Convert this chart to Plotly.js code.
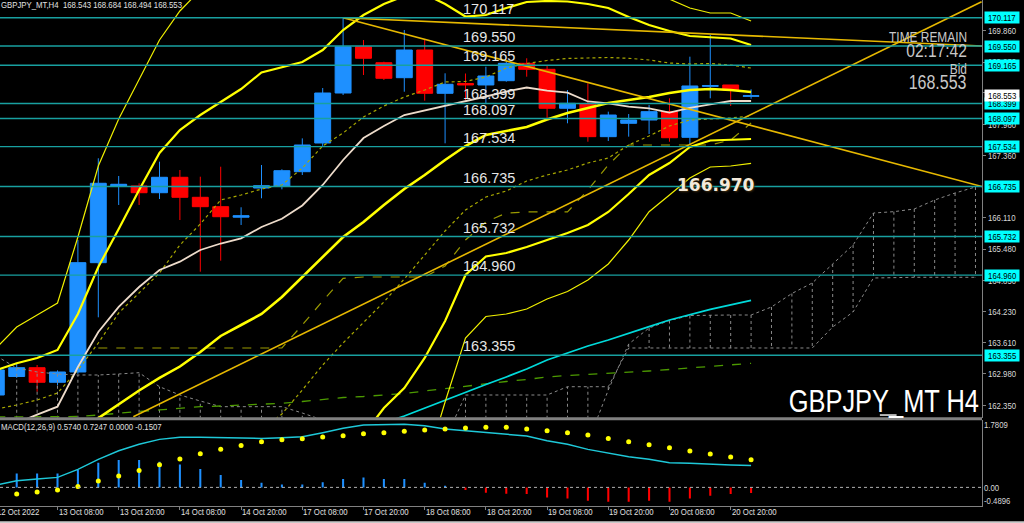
<!DOCTYPE html>
<html><head><meta charset="utf-8">
<script src="https://cdn.plot.ly/plotly-3.0.1.min.js"></script>
<style>html,body{margin:0;padding:0;background:#000;overflow:hidden}#chart{width:1024px;height:523px}</style>
</head><body><div id="chart"></div>
<script>
// ---------- DATA ----------
// bar index -1 .. 36  (12 Oct 20:00 .. 21 Oct 00:00, H4)
const barIdx = []; for (let k = -1; k <= 36; k++) barIdx.push(k);
const cloudIdx = []; for (let k = -1; k <= 47; k++) cloudIdx.push(k);

const tickIdx = [-1, 2, 5, 8, 11, 14, 17, 20, 23, 26, 29, 32, 35];
const tickLabels = ['12 Oct 2022','13 Oct 08:00','13 Oct 20:00','14 Oct 08:00','14 Oct 20:00','17 Oct 08:00',
  '17 Oct 20:00','18 Oct 08:00','18 Oct 20:00','19 Oct 08:00','19 Oct 20:00','20 Oct 08:00','20 Oct 20:00'];

const openP  = [162.557,162.928,163.104,162.812,163.018,165.209,166.746,166.746,166.611,166.920,166.519,166.331,166.120,166.705,166.745,167.032,167.607,168.609,169.537,169.216,168.916,169.471,168.603,168.800,168.770,168.856,169.204,169.084,168.303,168.389,167.734,168.002,168.068,168.235,167.721,168.743,168.770,168.543];
const highP  = [163.100,163.198,163.158,163.050,165.663,167.301,166.946,166.800,167.233,167.066,166.932,167.132,166.319,167.166,167.080,167.700,168.709,170.112,169.671,169.236,169.872,169.671,169.004,169.000,169.136,169.250,169.305,169.170,168.669,168.804,168.235,168.188,168.369,168.503,169.337,169.772,168.770,168.684];
const lowP   = [162.500,162.900,162.623,162.750,162.980,164.114,166.365,166.365,166.485,166.064,165.028,165.249,165.964,166.499,166.679,166.966,167.527,168.569,168.970,168.870,168.635,168.455,167.601,168.469,168.403,168.836,168.936,168.102,168.002,167.633,167.647,167.734,167.788,167.633,167.567,168.503,168.349,168.494];
const closeP = [163.058,163.104,162.812,163.018,165.209,166.800,166.780,166.611,166.920,166.519,166.331,166.130,166.150,166.752,167.052,167.567,168.609,169.537,169.305,168.904,169.471,168.603,168.784,168.770,168.950,169.204,169.084,168.303,168.403,167.734,168.168,168.068,168.235,167.713,168.750,168.757,168.669,168.553];

const maBeige = [161.850,161.996,162.164,162.323,163.118,163.820,164.321,164.721,165.062,165.229,165.463,165.593,165.697,165.924,166.090,166.355,166.766,167.267,167.707,167.948,168.168,168.259,168.349,168.449,168.539,168.639,168.719,168.659,168.615,168.439,168.403,168.335,168.303,168.215,168.309,168.383,168.449,168.449];
const bbMid = [null,null,null,null,161.816,162.096,162.377,162.647,162.898,163.128,163.419,163.740,163.960,164.180,164.521,164.922,165.343,165.724,166.024,166.365,166.685,166.966,167.267,167.547,167.768,167.848,167.928,168.078,168.208,168.309,168.409,168.469,168.529,168.609,168.669,168.689,168.669,168.629];
const bbUp1 = [162.277,162.357,162.457,162.597,163.058,163.599,164.200,164.601,165.002,165.563,165.984,166.465,166.565,166.685,166.766,167.106,167.547,167.808,168.128,168.349,168.529,168.669,168.830,168.840,168.930,169.110,169.200,169.261,169.301,169.311,169.321,169.305,169.271,169.210,169.190,169.200,169.170,169.110];
const bbUp2 = [163.058,163.192,163.299,163.459,164.180,165.122,165.884,166.665,167.407,167.868,168.168,168.429,168.689,169.020,169.130,169.231,169.471,169.872,170.172,170.393,170.553,170.593,170.393,170.142,170.172,170.313,170.433,170.453,170.443,170.393,170.313,170.132,169.972,169.852,169.752,169.721,169.701,169.571];
const bbUp3 = [163.499,163.920,164.160,164.401,165.724,167.146,168.088,168.870,169.671,170.253,170.673,170.970,171.170,171.300,171.350,171.400,171.500,171.650,171.800,171.900,171.950,171.950,171.850,171.600,171.450,171.400,171.350,171.300,171.200,171.050,170.900,170.750,170.600,170.490,170.313,170.212,170.212,170.052];
const bbDn1 = [null,null,null,null,null,null,null,null,null,null,null,null,null,161.856,162.176,162.657,163.158,163.599,164.000,164.421,164.882,165.363,165.844,166.265,166.525,166.645,166.846,166.966,167.066,167.206,167.307,167.567,167.748,167.948,168.068,168.088,168.108,168.148];
const bbDn2 = [null,null,null,null,null,null,null,null,null,null,null,null,null,null,null,null,null,161.355,161.756,162.297,162.697,163.299,164.040,164.962,165.333,165.403,165.523,165.663,165.804,165.964,166.225,166.585,166.966,167.206,167.527,167.657,167.677,167.687];
const bbDn3 = [null,null,null,null,null,null,null,null,null,null,null,null,null,null,null,null,null,null,null,null,null,161.054,162.417,163.699,164.130,164.180,164.281,164.481,164.631,164.862,165.182,165.663,166.231,166.565,166.906,167.126,167.146,167.200];
const maCyan = [null,null,null,null,null,null,null,null,null,null,null,null,null,null,null,null,null,null,161.836,161.996,162.136,162.297,162.457,162.617,162.768,162.918,163.078,163.259,163.399,163.539,163.659,163.800,163.926,164.060,164.170,164.271,164.361,164.451];
const maGreen = [162.116,162.116,162.116,162.116,162.126,162.156,162.196,162.226,162.257,162.291,162.323,162.337,162.357,162.373,162.391,162.427,162.467,162.507,162.527,162.557,162.587,162.637,162.687,162.738,162.788,162.828,162.868,162.918,162.948,162.968,162.988,163.012,163.038,163.068,163.098,163.128,163.158,163.192];
const kijun = [null,null,null,null,null,163.499,163.499,163.499,163.499,163.499,163.499,163.499,163.499,163.499,163.499,163.960,164.441,164.896,164.922,164.922,164.922,164.922,165.142,165.663,166.024,166.204,166.225,166.225,166.225,166.665,167.166,167.567,167.567,167.567,167.567,167.567,167.667,168.008];

// Ichimoku cloud spans, bar -1 .. 47
const spanY = [163.339,163.098,163.018,162.978,162.958,162.958,162.978,163.004,162.723,162.557,162.437,162.323,162.323,162.323,162.323,162.196,162.056,161.856,161.856,161.856,161.856,161.856,161.660,162.557,162.557,162.557,162.557,162.557,162.723,162.723,162.723,163.499,163.499,163.499,163.499,163.499,163.499,163.499,163.499,163.499,163.499,163.920,164.221,164.902,164.916,164.916,164.916,164.916,164.916];
const spanX = [161.6,161.6,161.6,161.6,161.6,161.6,161.6,161.6,161.6,161.6,161.6,161.6,161.6,161.6,161.6,161.6,161.6,161.6,161.6,161.6,161.6,161.6,161.6,161.6,161.6,161.6,161.6,161.6,161.6,161.6,162.657,163.579,163.900,164.050,164.150,164.160,164.160,164.160,164.321,164.591,164.802,165.182,165.563,166.204,166.231,166.285,166.465,166.605,166.726];

// MACD(12,26,9)
const macdHist = [0.370,0.368,0.368,0.368,0.455,0.647,0.718,0.718,0.674,0.605,0.482,0.324,0.192,0.121,0.079,0.079,0.132,0.218,0.263,0.218,0.218,0.121,0.042,-0.071,-0.142,-0.165,-0.176,-0.263,-0.290,-0.353,-0.379,-0.379,-0.353,-0.379,-0.290,-0.221,-0.176,-0.1507];
const macdMain = [0.060,0.175,0.218,0.263,0.474,0.737,0.963,1.132,1.263,1.316,1.316,1.305,1.289,1.289,1.305,1.332,1.437,1.553,1.639,1.658,1.658,1.621,1.534,1.489,1.447,1.403,1.350,1.226,1.132,1.000,0.895,0.805,0.737,0.647,0.632,0.605,0.587,0.574];
const macdSignal = [-0.230,-0.176,-0.124,-0.071,0.026,0.166,0.297,0.447,0.595,0.745,0.884,1.000,1.105,1.200,1.253,1.279,1.324,1.358,1.411,1.437,1.474,1.508,1.534,1.561,1.579,1.579,1.534,1.489,1.437,1.376,1.289,1.200,1.121,1.042,0.955,0.876,0.797,0.7247];

// Trendlines (bar index, price)
const tl1X = [16, 47.32], tl1Y = [170.117, 166.735];
const tl2X = [16, 47.32], tl2Y = [170.117, 169.550];
const tl3X = [5.716, 47.30], tl3Y = [162.122, 170.439];

// Horizontal levels
const levels = [170.117, 169.550, 169.165, 168.399, 168.097, 167.534, 166.735, 165.732, 164.960, 163.355];
const bidPrice = 168.553;
const priceTicks = [162.350,162.980,163.610,164.230,164.850,165.480,166.110,167.360,167.980,168.610,169.230,169.860];
const macdTicks = [1.7809, 0.00, -0.4896];
const macdTickText = ['1.7809', '0.00', '-0.4896'];

// ---------- BUILD ----------
const COMP = '"Liberation Sans", Arial, sans-serif';   // narrowed after render
const SANS = '"Liberation Sans", sans-serif';
const traces = [];

// cloud hatch
const hx = [], hy = [];
cloudIdx.forEach((k, i) => { hx.push(k, k, null); hy.push(spanX[i], spanY[i], null); });
traces.push({type:'scatter', mode:'lines', x:hx, y:hy, line:{color:'#8a8a8a', width:1, dash:'dot'}, hoverinfo:'skip'});
traces.push({type:'scatter', mode:'lines', x:cloudIdx, y:spanX, line:{color:'#8a8a8a', width:1, dash:'dot'}, hoverinfo:'skip'});
traces.push({type:'scatter', mode:'lines', x:cloudIdx, y:spanY, line:{color:'#8a8a8a', width:1, dash:'dot'}, hoverinfo:'skip'});

// candles
traces.push({type:'candlestick', x:barIdx, open:openP, high:highP, low:lowP, close:closeP,
  increasing:{line:{color:'#1e90ff', width:1}, fillcolor:'#1e90ff'},
  decreasing:{line:{color:'#ff0000', width:1}, fillcolor:'#ff0000'},
  whiskerwidth:0, hoverinfo:'skip'});

function line(y, color, width, dash) {
  traces.push({type:'scatter', mode:'lines', x:barIdx, y:y, line:{color:color, width:width, dash:dash||'solid'}, hoverinfo:'skip', connectgaps:false});
}
line(maGreen, '#4c9a00', 1.3, 'dash');
line(maCyan, '#00dada', 1.8);
line(kijun, '#9a9a00', 1.2, 'dash');
line(bbUp1, '#a8a800', 1.2, 'dot');
line(bbDn1, '#a8a800', 1.2, 'dot');
line(maBeige, '#eedccb', 1.8);
line(bbUp3, '#f0f000', 1.2);
line(bbDn3, '#f0f000', 1.2);
line(bbUp2, '#ffff00', 2.2);
line(bbDn2, '#ffff00', 2.2);
line(bbMid, '#ffff00', 2.6);

[[tl1X, tl1Y], [tl2X, tl2Y], [tl3X, tl3Y]].forEach(([x, y]) => {
  traces.push({type:'scatter', mode:'lines', x:x, y:y, line:{color:'#e6b800', width:1.6}, hoverinfo:'skip'});
});

// MACD
traces.push({type:'bar', x:barIdx, y:macdHist, yaxis:'y2', width:0.1,
  marker:{color:macdHist.map(v => v >= 0 ? '#1e90ff' : '#ff0000')}, hoverinfo:'skip'});
traces.push({type:'scatter', mode:'lines', x:barIdx, y:macdMain, yaxis:'y2', line:{color:'#1ec8d8', width:1.5}, hoverinfo:'skip'});
traces.push({type:'scatter', mode:'markers', x:barIdx, y:macdSignal, yaxis:'y2', marker:{color:'#ffff00', size:5}, hoverinfo:'skip'});

// shapes
const shapes = [];
levels.forEach(v => shapes.push({type:'line', xref:'paper', x0:0, x1:1, yref:'y', y0:v, y1:v, line:{color:'#18a0a0', width:1.4}}));
shapes.push({type:'line', xref:'paper', x0:0, x1:1, yref:'y2', y0:0, y1:0, line:{color:'#b0b0b0', width:1, dash:'dot'}});
shapes.push({type:'rect', xref:'paper', x0:0, x1:1, yref:'paper', y0:0.1695, y1:0.1755, fillcolor:'#808080', line:{width:0}});
shapes.push({type:'rect', xref:'paper', x0:0.896, x1:0.913, yref:'paper', y0:0.178, y1:0.1815, fillcolor:'#c8c8c8', line:{width:0}});
shapes.push({type:'rect', xref:'paper', x0:0, x1:1.05, yref:'paper', y0:-0.0336, y1:-0.0300, fillcolor:'#c8c8c8', line:{width:0}});

// annotations
const ann = [];
levels.forEach(v => {
  ann.push({xref:'paper', x:0.4702, xanchor:'left', align:'left', yref:'y', y:v, yanchor:'bottom', showarrow:false,
    text:v.toFixed(3), font:{family:SANS, size:14.5, color:'#e6e6e6'}, borderpad:0});
  ann.push({xref:'paper', x:1, xanchor:'left', xshift:2, yref:'y', y:v, yanchor:'middle', showarrow:false,
    text:v.toFixed(3), bgcolor:'#00ffff', font:{family:COMP, size:9.5, color:'#000'}, borderpad:0});
});
ann.push({xref:'paper', x:1, xanchor:'left', xshift:2, yref:'y', y:bidPrice, yanchor:'middle', showarrow:false,
  text:bidPrice.toFixed(3), bgcolor:'#ffffff', font:{family:COMP, size:9.5, color:'#000'}, borderpad:0});
tickIdx.forEach((k, i) => {
  const a = {xanchor:'left', align:'left', yref:'paper', y:0.004, yanchor:'top', showarrow:false,
    text:tickLabels[i], font:{family:COMP, size:9.5, color:'#e0e0e0'}};
  if (i === 0) { a.xref = 'paper'; a.x = 0; a.xshift = -5; } else { a.xref = 'x'; a.x = k; a.xshift = -1; }
  ann.push(a);
});
macdTicks.forEach((v, i) => ann.push({xref:'paper', x:1, xanchor:'left', align:'left', xshift:0, yref:'paper',
  y:[0.1601, 0.037, 0.0105][i], yanchor:'middle', showarrow:false, text:macdTickText[i], font:{family:COMP, size:9.5, color:'#d8d8d8'}}));
ann.push({xref:'paper', x:0, xanchor:'left', align:'left', xshift:-1, yref:'paper', y:0.9911, yanchor:'middle', showarrow:false,
  text:'GBPJPY_MT,H4  168.543 168.684 168.494 168.553', font:{family:COMP, size:9.5, color:'#e0e0e0'}});
ann.push({xref:'paper', x:0, xanchor:'left', align:'left', xshift:-1, yref:'paper', y:0.1581, yanchor:'middle', showarrow:false,
  text:'MACD(12,26,9) 0.5740 0.7247 0.0000 -0.1507', font:{family:COMP, size:9.5, color:'#e0e0e0'}});
const tr = [['TIME REMAIN', 0.9269, 14.5], ['02:17:42', 0.9002, 19], ['Bid', 0.8636, 14.5], ['168.553', 0.8370, 19.5]];
tr.forEach(([t, y, s]) => ann.push({xref:'paper', x:0.9857, xanchor:'right', align:'right', yref:'paper', y:y, yanchor:'middle', showarrow:false,
  text:t, font:{family:COMP, size:s, color:'#c8c8c8'}, borderpad:0}));
ann.push({xref:'paper', x:0.998, xanchor:'right', align:'right', yref:'paper', y:0.2065, yanchor:'middle', showarrow:false,
  text:'GBPJPY_MT H4', font:{family:COMP, size:31, color:'#ffffff'}, borderpad:0});
ann.push({xref:'paper', x:0.7296, xanchor:'center', yref:'paper', y:0.6344, yanchor:'middle', showarrow:false,
  text:'<b>166.970</b>', font:{family:'"DejaVu Sans", sans-serif', size:17, color:'#f3e9da', shadow:'1px 1px 2px #3a2a10'}, borderpad:0});

const layout = {
  width:1024, height:523, paper_bgcolor:'#000', plot_bgcolor:'#000',
  margin:{l:0, r:42, t:0, b:17}, showlegend:false, dragmode:false,
  boxgap:0.22, boxgroupgap:0, barmode:'overlay',
  xaxis:{range:[-0.819, 47.32], anchor:'y2', showgrid:false, zeroline:false, showline:true, linecolor:'#808080',
    ticks:'outside', ticklen:3, tickcolor:'#808080', tickvals:tickIdx, showticklabels:false, rangeslider:{visible:false}},
  yaxis:{domain:[0.1747, 1], range:[162.104, 170.473], side:'right', showgrid:false, zeroline:false, showline:true,
    linecolor:'#808080', ticks:'outside', ticklen:3, tickcolor:'#808080', tickvals:priceTicks,
    ticktext:priceTicks.map(v => v.toFixed(3)), tickfont:{family:COMP, size:9.5, color:'#d8d8d8'}},
  yaxis2:{domain:[0, 0.1706], range:[-0.4896, 1.7809], side:'right', showgrid:false, zeroline:false, showline:true,
    linecolor:'#808080', showticklabels:false, ticks:''},
  shapes:shapes, annotations:ann
};
Plotly.newPlot('chart', traces, layout, {staticPlot:true, displayModeBar:false}).then(gd => {
  // MetaTrader's text is narrow: compress glyphs horizontally (text stays real text)
  gd.querySelectorAll('text').forEach(el => {
    const ff = el.style.fontFamily || el.getAttribute('style') || '';
    if (ff.indexOf('Arial') >= 0) {
      const w = el.getComputedTextLength();
      if (w > 0) {
        el.setAttribute('textLength', (w * 0.82).toFixed(1));
        el.setAttribute('lengthAdjust', 'spacingAndGlyphs');
      }
    }
  });
});
</script></body></html>
